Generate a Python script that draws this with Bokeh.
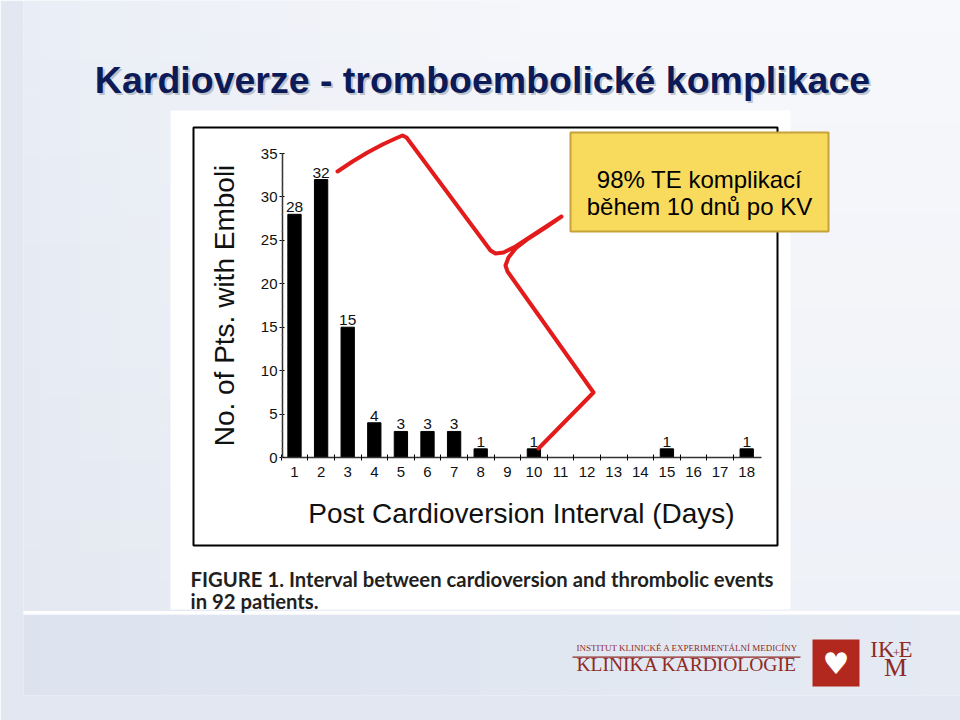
import math
from bokeh.plotting import figure
from bokeh.models import Range1d, FixedTicker, LinearAxis, ColumnDataSource
from bokeh.embed import file_html
from bokeh.resources import INLINE
from bokeh.core.properties import value

# ---------------- data ----------------
days = list(range(1, 19))
counts = [28, 32, 15, 4, 3, 3, 3, 1, 0, 1, 0, 0, 0, 0, 1, 0, 0, 1]
y_ticks = [0, 5, 10, 15, 20, 25, 30, 35]
x_label = "Post Cardioversion Interval (Days)"
y_label = "No. of Pts. with Emboli"
title_text = "Kardioverze - tromboembolické komplikace"
caption_1 = "FIGURE 1. Interval between cardioversion and thrombolic events"
caption_2 = "in 92 patients."
box_line_1 = "98% TE komplikací"
box_line_2 = "během 10 dnů po KV"

# ---------------- page geometry (pixels) ----------------
W, H = 960, 720
BL, BB = 23, 25            # small borders that hold the axis panels
DAY1_PX, PX_PER_DAY = 294.0, 26.6
ZERO_PX, PX_PER_PT = 457.0, (457.0 - 153.0) / 35.0
EDGE = "#E2E7F1"           # colour of the thin page borders

p = figure(width=W, height=H, x_range=Range1d(BL, W), y_range=Range1d(H - BB, 0),
           x_axis_type=None, y_axis_type=None,
           output_backend="svg", toolbar_location=None,
           min_border_left=BL, min_border_right=0, min_border_top=0, min_border_bottom=BB)
p.title = None
p.outline_line_color = None
p.grid.visible = False
p.background_fill_color = "#F1F3F8"
p.border_fill_color = EDGE

p.extra_x_ranges = {"days": Range1d(1 + (BL - DAY1_PX) / PX_PER_DAY, 1 + (W - DAY1_PX) / PX_PER_DAY)}
p.extra_y_ranges = {"pts": Range1d(-(H - BB - ZERO_PX) / PX_PER_PT, ZERO_PX / PX_PER_PT)}


# ---------------- slide background (soft gradient, styling only) ----------------
def mix(c0, c1, t):
    a = [int(c0[i:i + 2], 16) for i in (1, 3, 5)]
    b = [int(c1[i:i + 2], 16) for i in (1, 3, 5)]
    return "#%02x%02x%02x" % tuple(round(a[k] + (b[k] - a[k]) * t) for k in range(3))


TL, TR, BLc, BRc = "#E9EDF5", "#F7F8FB", "#E3E8F1", "#EEF1F7"
NR, NC = 20, 24
L_, R_, T_, B_, C_ = [], [], [], [], []
for r in range(NR):
    for c in range(NC):
        ty = (r + 0.5) / NR
        tx = min(1.0, ((c + 0.5) / NC) * 1.6)
        C_.append(mix(mix(TL, TR, tx), mix(BLc, BRc, tx), ty))
        L_.append(c * W / NC); R_.append((c + 1) * W / NC + 0.6)
        T_.append(r * 611 / NR); B_.append((r + 1) * 611 / NR + 0.6)
# lower band
for c in range(NC):
    tx = (c + 0.5) / NC
    C_.append(mix("#DCE3EF", "#E5EAF3", tx))
    L_.append(c * W / NC); R_.append((c + 1) * W / NC + 0.6)
    T_.append(614); B_.append(H)
p.quad(left=L_, right=R_, top=T_, bottom=B_, fill_color=C_, line_color=None)
p.quad(left=0, right=W, top=610.5, bottom=614, fill_color="#FFFFFF", line_color=None)

# white picture panel and black frame
p.quad(left=170, right=790, top=110, bottom=609, fill_color="#FFFFFF", line_color=None)
p.quad(left=193, right=777, top=127, bottom=545, fill_alpha=0, line_color="black", line_width=2)

# ---------------- chart ----------------
src = ColumnDataSource(dict(day=days, n=counts))
p.vbar(x="day", top="n", width=0.5, source=src, color="black",
       x_range_name="days", y_range_name="pts")

lab_days = [d for d, c in zip(days, counts) if c > 0]
lab_vals = [c for c in counts if c > 0]
tsrc = ColumnDataSource(dict(x=lab_days, y=lab_vals, t=[str(v) for v in lab_vals]))
p.text(x="x", y="y", text="t", source=tsrc, text_align="center", text_baseline="bottom",
       y_offset=-2, text_font_size="15.5px", text_font=value("Liberation Sans"), text_color="#111111",
       x_range_name="days", y_range_name="pts")

xa = LinearAxis(x_range_name="days", y_range_name="pts", fixed_location=0, bounds=(0.55, 18.56))
xa.ticker = FixedTicker(ticks=days, minor_ticks=[0.5] + [d + 0.5 for d in days[:-1]])
xa.major_tick_in = 0
xa.major_tick_out = 0
xa.minor_tick_in = 3
xa.minor_tick_out = 3
xa.minor_tick_line_color = "black"
xa.major_label_standoff = 6
xa.major_label_text_font = "Liberation Sans"
xa.major_label_text_font_size = "15px"
xa.major_label_text_color = "#111111"
xa.axis_line_width = 1.5
xa.axis_line_color = "#333333"
p.add_layout(xa, "below")

ya = LinearAxis(x_range_name="days", y_range_name="pts", fixed_location=0.55, bounds=(0, 35))
ya.ticker = FixedTicker(ticks=y_ticks, minor_ticks=list(range(0, 36)))
ya.major_tick_in = 2
ya.major_tick_out = 3
ya.minor_tick_in = 0
ya.minor_tick_out = 1
ya.minor_tick_line_color = "#777777"
ya.major_label_standoff = 2
ya.major_label_text_font = "Liberation Sans"
ya.major_label_text_font_size = "15px"
ya.major_label_text_color = "#111111"
ya.axis_line_width = 1.5
ya.axis_line_color = "#333333"
p.add_layout(ya, "left")

# axis titles
p.text(x=[224], y=[305], text=[y_label], angle=math.pi / 2, text_align="center",
       text_baseline="middle", text_font=value("Liberation Sans"), text_font_size="28px",
       text_color="#111111")
p.text(x=[521], y=[513], text=[x_label], text_align="center", text_baseline="middle",
       text_font=value("Liberation Sans"), text_font_size="28px", text_color="#111111")

# ---------------- caption ----------------
p.text(x=[190, 190], y=[578, 600], text=[caption_1, caption_2], text_align="left",
       text_baseline="alphabetic", text_font=value("Lato"), text_font_style="bold",
       text_font_size="20.3px", text_color="#231F20")

# ---------------- red brace ----------------
brace_x = [337, 352, 367, 382, 395, 402, 406, 490, 495, 503, 515, 561,
           545, 528, 515, 508, 505, 507, 593, 538]
brace_y = [171, 161, 152, 144, 138, 135, 137, 250, 253, 252, 246, 216,
           227, 238, 248, 257, 265, 271, 392, 448]
p.line(x=brace_x, y=brace_y, line_color="#E41B1B", line_width=4,
       line_join="round", line_cap="round")

# ---------------- yellow note ----------------
p.quad(left=570, right=828, top=132, bottom=231, fill_color="#F8DB5C",
       line_color="#C6A23A", line_width=2)
p.text(x=[699, 699], y=[179, 206], text=[box_line_1, box_line_2], text_align="center",
       text_baseline="alphabetic", text_font=value("Liberation Sans"),
       text_font_size="24px", text_color="black")

# ---------------- title ----------------
p.text(x=[484, 482], y=[81.5, 79], text=[title_text, title_text], text_align="center",
       text_baseline="alphabetic", text_font=value("Liberation Sans"), text_font_style="bold",
       text_font_size="37.5px", text_color=["#8C93A3", "#0C1A58"], text_alpha=[0.5, 1.0])

# ---------------- footer logos ----------------
RED = "#8E2B24"
p.text(x=[576], y=[652], text=["INSTITUT KLINICKÉ A EXPERIMENTÁLNÍ MEDICÍNY"],
       text_font=value("Liberation Serif"), text_font_size="9px", text_color=RED)
p.quad(left=572, right=800, top=656, bottom=657.2, fill_color=RED, line_color=None)
p.text(x=[576], y=[674], text=["KLINIKA KARDIOLOGIE"],
       text_font=value("Liberation Serif"), text_font_size="19.5px", text_color=RED)
p.quad(left=812, right=859, top=639, bottom=686, fill_color="#B3281E", line_color=None)
p.text(x=[835.5], y=[663], text=["♥"], text_align="center", text_baseline="middle",
       text_font=value("DejaVu Sans"), text_font_size="30px", text_color="white")
p.text(x=[894, 898], y=[661, 661], text=["IK", "E"], text_align=["right", "left"],
       text_font=value("Liberation Serif"), text_font_size="23px", text_color=RED)
p.text(x=[896], y=[656], text=["+"], text_align="center",
       text_font=value("Liberation Serif"), text_font_size="13px", text_color=RED)
p.text(x=[895], y=[681], text=["M"], text_align="center",
       text_font=value("Liberation Serif"), text_font_size="26px", text_color=RED)

open("out.html", "w").write(file_html(p, INLINE))
